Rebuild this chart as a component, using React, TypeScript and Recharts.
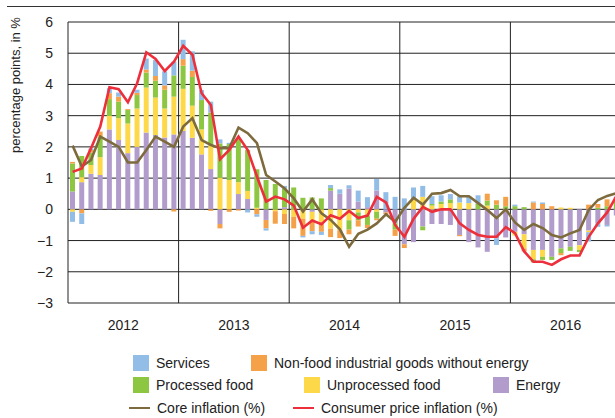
import React from 'react';
import {
  ComposedChart, Bar, Line, XAxis, YAxis, CartesianGrid, ReferenceLine,
} from 'recharts';

const years = [2012, 2013, 2014, 2015, 2016];
const monthNames = ['Jan', 'Feb', 'Mar', 'Apr', 'May', 'Jun', 'Jul', 'Aug', 'Sep', 'Oct', 'Nov', 'Dec'];
const yTicks = [-3, -2, -1, 0, 1, 2, 3, 4, 5, 6];

// contributions in percentage points, Jan 2012 .. Dec 2016
const energy = [
  0.57, 0.87, 1.14, 1.1, 2.56, 2.22, 1.8, 2.0, 2.46, 2.38, 2.3, 2.4,
  2.51, 2.29, 1.76, 1.29, -0.47, 0, 0.49, 0.33, 0, -0.34, 0, 0.07,
  0, 0, -0.08, 0, 0.6, 0.5, 0.67, 0.25, 0.07, 0.6, -0.1, -0.45,
  -1.12, -1.05, -0.55, -0.47, -0.47, -0.5, -0.82, -1.05, -1.22, -1.36, -0.94, -0.9,
  -0.72, -0.8, -1.3, -1.3, -1.52, -1.25, -1.2, -1.15, -0.68, -0.46, -0.5, -0.2,
];
const unprocessed = [
  -0.08, 0.16, 0.28, 0.57, 0.43, 0.7, 0.95, 1.23, 1.44, 1.2, 0.93, 1.21,
  1.35, 1.03, 0.8, 0.75, 1.01, 0.94, 0.38, 0.26, 0.05, 0, -0.06, -0.15,
  -0.24, -0.3, -0.27, -0.4, -0.62, -0.67, -0.35, -0.1, -0.2, -0.08, 0, 0,
  0, 0.32, 0.4, 0.12, 0.17, 0.2, 0.22, 0.2, 0, 0.12, 0, 0,
  -0.12, -0.45, -0.3, -0.22, 0, 0.06, 0.05, -0.15, -0.05, 0, 0, 0,
];
const processed = [
  0.9, 0.68, 0.4, 0.66, 0.54, 0.53, 0.43, 0.43, 0.48, 0.54, 0.6, 0.68,
  0.74, 0.92, 0.94, 1.06, 1.1, 1.15, 1.4, 1.31, 1.23, 0.94, 0.81, 0.6,
  0.7, 0.37, 0.38, 0.35, 0.08, 0, -0.3, -0.25, -0.3, -0.22, 0, -0.2,
  0, 0, -0.12, 0.05, 0.08, 0.12, 0, 0, 0.18, 0.16, 0.15, 0.1,
  0.1, 0.07, -0.1, -0.1, -0.1, -0.15, -0.13, -0.07, 0, 0.05, 0.1, 0.25,
];
const nonFood = [
  0.05, -0.13, 0.08, 0.16, 0.19, 0.16, 0.03, 0.07, 0.1, 0.15, 0.14, -0.07,
  0.21, 0.2, 0, -0.05, -0.14, -0.08, -0.04, 0, -0.16, -0.27, -0.4, -0.32,
  -0.37, -0.55, -0.35, -0.32, -0.27, -0.25, -0.15, -0.2, -0.1, -0.05, -0.05, -0.2,
  -0.12, 0, 0, 0, 0, 0, -0.04, 0, 0, 0.22, 0.14, 0.3,
  0, -0.1, 0.22, 0.17, 0.1, -0.07, 0, 0, 0.15, 0.12, 0.22, 0.1,
];
const services = [
  -0.32, -0.34, 0.05, 0, 0.16, 0.13, 0, 0.1, 0.35, 0.51, 0.45, 0.44,
  0.62, 0.62, 0.32, 0.35, 0.13, 0.04, 0, -0.1, -0.08, -0.07, 0, 0.08,
  0, -0.05, -0.1, -0.1, 0.1, 0.14, 0.1, 0.35, 0.32, 0.37, 0.55, 0.4,
  0.35, 0.38, 0.35, 0.25, 0.2, 0.17, 0.2, 0.22, 0.27, 0, -0.2, 0,
  0.05, 0, 0.03, 0.05, 0, 0, 0, 0, -0.3, -0.1, -0.05, 0.05,
];
const core = [
  2.04, 1.37, 1.58, 2.33, 2.17, 2.0, 1.5, 1.5, 1.9, 2.33, 2.17, 2.0,
  2.65, 2.92, 2.22, 2.06, 1.96, 1.96, 2.62, 2.44, 2.12, 1.1, 0.89, 0.67,
  0.35, -0.07, 0.32, -0.13, -0.34, -0.64, -1.2, -0.78, -0.65, -0.45, -0.16, -0.4,
  0.05, 0.37, 0.15, 0.5, 0.52, 0.62, 0.42, 0.42, 0.2, -0.02, -0.28, 0.0,
  -0.42, -0.66, -0.47, -0.6, -0.82, -0.9, -0.77, -0.66, -0.02, 0.3, 0.43, 0.52,
];
const cpi = [
  1.2, 1.31, 1.96, 2.65, 3.91, 3.85, 3.43, 4.04, 5.03, 4.82, 4.43, 4.73,
  5.24, 4.95, 3.72, 3.34, 1.6, 1.9, 2.33, 1.9, 1.05, 0.25, 0.41, 0.32,
  0.12, -0.59, -0.36, -0.48, -0.19, -0.3, -0.05, -0.28, -0.2, 0.4, 0.22, -0.5,
  -0.88, -0.3, 0.08, -0.08, 0.0, 0.0, -0.45, -0.66, -0.82, -0.88, -0.88, -0.57,
  -0.76, -1.35, -1.68, -1.68, -1.78, -1.6, -1.48, -1.48, -0.88, -0.45, -0.1, 0.42,
];

const data = energy.map((_, i) => ({
  m: `${monthNames[i % 12]} ${years[Math.floor(i / 12)]}`,
  idx: i,
  energy: energy[i],
  unprocessed: unprocessed[i],
  processed: processed[i],
  nonFood: nonFood[i],
  services: services[i],
  core: core[i],
  cpi: cpi[i],
}));

const C = {
  services: '#92bde6',
  nonFood: '#f5a149',
  processed: '#8dc641',
  unprocessed: '#fdd94a',
  energy: '#b19ccc',
  core: '#7d6b3d',
  cpi: '#ec2f3b',
  grid: '#222',
};

const font = '"Liberation Sans", Arial, sans-serif';

const legendBoxes = [
  { label: 'Services', color: C.services, x: 133, y: 355 },
  { label: 'Non-food industrial goods without energy', color: C.nonFood, x: 251, y: 355 },
  { label: 'Processed food', color: C.processed, x: 133, y: 377 },
  { label: 'Unprocessed food', color: C.unprocessed, x: 304, y: 377 },
  { label: 'Energy', color: C.energy, x: 493, y: 377 },
];
const legendLines = [
  { label: 'Core inflation (%)', color: C.core, x: 129, y: 400 },
  { label: 'Consumer price inflation (%)', color: C.cpi, x: 293, y: 400 },
];

const fmtY = (v: number) => (v < 0 ? `\u2212${Math.abs(v)}` : `${v}`);
const fmtYear = (v: number) => `${years[Math.floor(v / 12)]}`;

export default function App() {
  return (
    <div style={{ position: 'fixed', left: 0, top: 0, width: 615, height: 418, overflow: 'hidden', fontFamily: font, color: '#222', background: '#fff' }}>
      <div style={{ position: 'absolute', left: 7, top: 6, width: 620, height: 1, background: '#333', zIndex: 2 }} />
      <div
        style={{
          position: 'absolute', left: 15, top: 85, fontSize: 13, whiteSpace: 'nowrap',
          transform: 'translate(-50%, -50%) rotate(-90deg)',
        }}
      >
        percentage points, in %
      </div>
      <div style={{ position: 'absolute', left: 0, top: 0 }}>
        <ComposedChart
          width={625}
          height={340}
          data={data}
          stackOffset="sign"
          barSize={5}
          margin={{ top: 22, right: 4, bottom: 7, left: 0 }}
        >
          <CartesianGrid xAxisId="t" vertical={false} stroke={C.grid} strokeOpacity={1} />
          <XAxis
            xAxisId="t"
            dataKey="idx"
            type="number"
            domain={[0, 60]}
            allowDataOverflow
            ticks={[6, 18, 30, 42, 54]}
            tickFormatter={fmtYear}
            axisLine={false}
            tickLine={false}
            tickMargin={11}
            height={30}
            tick={{ fill: '#222', fontSize: 14, fontFamily: font }}
          />
          <XAxis xAxisId="m" dataKey="m" hide height={0} />
          <YAxis
            domain={[-3, 6]}
            ticks={yTicks}
            tickFormatter={fmtY}
            width={68}
            axisLine={{ stroke: C.grid }}
            tickLine={false}
            tickMargin={9}
            interval={0}
            tick={{ fill: '#222', fontSize: 14, fontFamily: font }}
          />
          {[12, 24, 36, 48].map((v) => (
            <ReferenceLine key={v} xAxisId="t" x={v} stroke={C.grid} />
          ))}
          <Bar xAxisId="m" dataKey="energy" stackId="a" fill={C.energy} isAnimationActive={false} />
          <Bar xAxisId="m" dataKey="unprocessed" stackId="a" fill={C.unprocessed} isAnimationActive={false} />
          <Bar xAxisId="m" dataKey="processed" stackId="a" fill={C.processed} isAnimationActive={false} />
          <Bar xAxisId="m" dataKey="nonFood" stackId="a" fill={C.nonFood} isAnimationActive={false} />
          <Bar xAxisId="m" dataKey="services" stackId="a" fill={C.services} isAnimationActive={false} />
          <Line xAxisId="m" type="linear" dataKey="core" stroke={C.core} strokeWidth={2.6} dot={false} isAnimationActive={false} />
          <Line xAxisId="m" type="linear" dataKey="cpi" stroke={C.cpi} strokeWidth={2.6} dot={false} isAnimationActive={false} />
        </ComposedChart>
      </div>
      {legendBoxes.map((l) => (
        <div key={l.label} style={{ position: 'absolute', left: l.x, top: l.y, display: 'flex', alignItems: 'center', fontSize: 14 }}>
          <span style={{ width: 16, height: 16, background: l.color, marginRight: 7, display: 'inline-block' }} />
          <span>{l.label}</span>
        </div>
      ))}
      {legendLines.map((l) => (
        <div key={l.label} style={{ position: 'absolute', left: l.x, top: l.y, height: 16, display: 'flex', alignItems: 'center', fontSize: 14 }}>
          <span style={{ width: 21, height: 2, background: l.color, marginRight: 7, display: 'inline-block' }} />
          <span>{l.label}</span>
        </div>
      ))}
    </div>
  );
}
